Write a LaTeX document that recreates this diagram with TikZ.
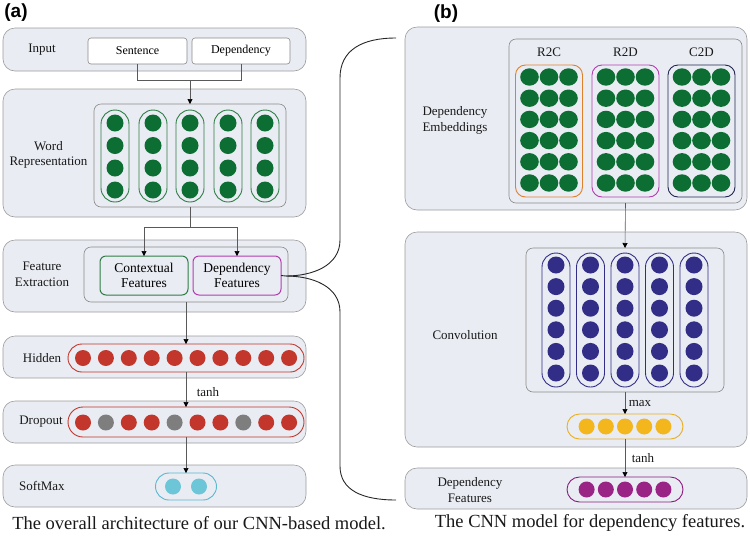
\documentclass[tikz,border=0pt]{standalone}
\usepackage{fontspec}
\setmainfont{Liberation Serif}
\newfontfamily\panelfont{Liberation Sans}
\usetikzlibrary{arrows.meta}
\definecolor{boxbg}{HTML}{E9ECF3}
\definecolor{boxline}{HTML}{9C9C9C}
\definecolor{innerline}{HTML}{8A8A8A}
\definecolor{wgreen}{HTML}{0C6E32}
\definecolor{pgreen}{HTML}{2E7D45}
\definecolor{hred}{HTML}{C3362B}
\definecolor{dgray}{HTML}{7E7E7E}
\definecolor{sblue}{HTML}{6CC6D8}
\definecolor{sblueline}{HTML}{5AB8CF}
\definecolor{corange}{HTML}{E0802A}
\definecolor{cmag}{HTML}{B13DAF}
\definecolor{cnavy}{HTML}{22264F}
\definecolor{dnavy}{HTML}{322E87}
\definecolor{cyellow}{HTML}{F3B61C}
\definecolor{cyellowline}{HTML}{EAB020}
\definecolor{cpurple}{HTML}{9A2486}
\definecolor{cpurpleline}{HTML}{8C1F7C}
\begin{document}
\begin{tikzpicture}[x=1pt,y=-1pt,
  every node/.style={inner sep=0pt,outer sep=0pt},
  outerbox/.style={draw=boxline,fill=boxbg,line width=0.6pt,rounded corners=12pt,anchor=north west},
  innerbox/.style={draw=innerline,fill=boxbg,line width=0.6pt,rounded corners=7pt,anchor=north west},
  inbox/.style={draw=innerline,fill=white,line width=0.6pt,rounded corners=3pt,anchor=north west,font=\fontsize{12}{14}\selectfont},
  featbox/.style={fill=boxbg,line width=1pt,rounded corners=6pt,anchor=north west,align=center,font=\fontsize{13.5}{15.5}\selectfont},
  pill/.style={line width=0.9pt,rounded corners=#1},
  lab/.style={align=center,font=\fontsize{13}{15.5}\selectfont,text=black!90},
  captext/.style={font=\fontsize{18.5}{20}\selectfont,text=black!90},
  panel/.style={font=\panelfont\bfseries\fontsize{19}{20}\selectfont},
  conn/.style={draw=black!65,line width=0.6pt},
  arr/.style={conn,-{Triangle[length=5pt,width=5pt,color=black]}},
  brace/.style={draw=black!85,line width=0.9pt}
]
\useasboundingbox (0,0) rectangle (750,542);

% ================= Panel (a) =================
\node[panel] (pa) at (16,13) {(a)};

% Input
\node[outerbox,minimum width=303pt,minimum height=43pt] (inbg) at (3,28) {};
\node[lab] (inlab) at (42,50) {Input};
\node[inbox,minimum width=99pt,minimum height=26pt] (sent) at (88,38) {Sentence};
\node[inbox,minimum width=98pt,minimum height=26pt] (dep) at (192,38) {Dependency};

% Word representation
\node[outerbox,minimum width=303pt,minimum height=128pt] (wrbg) at (3,89) {};
\node[innerbox,minimum width=192pt,minimum height=103pt] (wrin) at (94,104) {};
\node[lab] (wrlab) at (48.5,155) {Word\\Representation};
\foreach \x [count=\i] in {115,153,190,228,265}{
  \node[draw=pgreen,pill=14pt,minimum width=28pt,minimum height=92pt] (wp\i) at (\x,156) {};
  \foreach \y in {123,145.5,168,190}{
    \fill[wgreen] (\x,\y) circle (8.5);
  }
}
\coordinate (j1) at (190,80);
\draw[conn] (sent.south) -- ++(0,16) -| (dep.south);
\draw[arr] (j1) -- (wrin.north);

% Feature extraction
\node[outerbox,minimum width=303pt,minimum height=72pt] (febg) at (3,240) {};
\node[innerbox,minimum width=204pt,minimum height=55pt] (fein) at (84,247) {};
\node[lab] (felab) at (42,274.5) {Feature\\Extraction};
\node[featbox,draw=pgreen,minimum width=88pt,minimum height=39pt] (ctx) at (100,256) {Contextual\\Features};
\node[featbox,draw=cmag,minimum width=88pt,minimum height=39pt] (dfeat) at (193,256) {Dependency\\Features};
\coordinate (j2) at (190,227);
\draw[conn] (wrin.south) -- (j2);
\draw[arr] (j2) -| (ctx.north);
\draw[arr] (j2) -| (dfeat.north);

% Hidden
\node[outerbox,minimum width=303pt,minimum height=42pt] (hbg) at (3,336) {};
\node[lab] (hlab) at (42,358) {Hidden};
\node[draw=hred,pill=14pt,minimum width=236pt,minimum height=28pt] (hp) at (186,358) {};
\foreach \i in {0,...,9}{
  \fill[hred] (83+22.9*\i,358) circle (8);
}
\draw[arr] (fein.south) -- (hp.north);

% Dropout
\node[outerbox,minimum width=303pt,minimum height=42pt] (dbg) at (3,401) {};
\node[lab] (dlab) at (41,422) {Dropout};
\node[draw=hred,pill=15pt,minimum width=236pt,minimum height=30pt] (dp) at (186,422) {};
\foreach \i/\c in {0/hred,1/dgray,2/hred,3/hred,4/dgray,5/hred,6/hred,7/dgray,8/hred,9/hred}{
  \fill[\c] (83+22.9*\i,422.5) circle (8);
}
\draw[arr] (hp.south) -- (dp.north);
\node[lab] (tanh1) at (208,392) {tanh};

% SoftMax
\node[outerbox,minimum width=303pt,minimum height=42pt] (sbg) at (3,465) {};
\node[lab] (slab) at (42,486) {SoftMax};
\node[draw=sblueline,pill=13.5pt,minimum width=61pt,minimum height=27pt] (sp) at (186,486.5) {};
\fill[sblue] (173,486.5) circle (8);
\fill[sblue] (199,486.5) circle (8);
\draw[arr] (dp.south) -- (sp.north);

\node[captext] (capa) at (199,523) {The overall architecture of our CNN-based model.};

% ================= Panel (b) =================
\node[panel] (pb) at (446,14) {(b)};

% Dependency embeddings
\node[outerbox,minimum width=342pt,minimum height=183pt] (debg) at (405,27) {};
\node[innerbox,minimum width=233pt,minimum height=164pt] (dein) at (509,39) {};
\node[lab] (delab) at (455,120.5) {Dependency\\Embeddings};
\foreach \cx/\col/\nm/\tx in {549/corange/r2c/R2C,625.5/cmag/r2d/R2D,701.5/cnavy/c2d/C2D}{
  \node[lab] (\nm lab) at (\cx,52) {\tx};
  \node[draw=\col,pill=10pt,minimum width=67pt,minimum height=132pt] (\nm) at (\cx,131) {};
  \foreach \dx in {-19.5,0,19.5}{
    \foreach \j in {0,...,5}{
      \fill[wgreen] (\cx+\dx,77+21.2*\j) ellipse (9.3 and 8.7);
    }
  }
}

% Convolution
\node[outerbox,minimum width=342pt,minimum height=215pt] (cbg) at (405,232) {};
\node[innerbox,minimum width=198pt,minimum height=144pt] (cin) at (526,248) {};
\node[lab] (clab) at (465,335) {Convolution};
\foreach \x [count=\i] in {556,590.5,625,659.5,694}{
  \node[draw=dnavy,pill=14pt,minimum width=28pt,minimum height=134pt] (cp\i) at (\x,320) {};
  \foreach \j in {0,...,5}{
    \fill[dnavy] (\x,265+21.6*\j) circle (8.5);
  }
}
\draw[arr] (dein.south) -- (cin.north);

\node[draw=cyellowline,pill=12.5pt,minimum width=116pt,minimum height=25pt] (yp) at (625,426.5) {};
\foreach \i in {-2,...,2}{
  \fill[cyellow] (625+19.2*\i,426.5) circle (8);
}
\draw[arr] (cin.south) -- (yp.north);
\node[lab] (maxlab) at (640,403) {max};

% Dependency features
\node[outerbox,minimum width=342pt,minimum height=41pt] (dfbg) at (405,468) {};
\node[lab] (dflab) at (470,490) {Dependency\\Features};
\node[draw=cpurpleline,pill=12.5pt,minimum width=116pt,minimum height=25pt] (pp) at (625,489.5) {};
\foreach \i in {-2,...,2}{
  \fill[cpurple] (625+19.2*\i,489.5) circle (8);
}
\draw[arr] (yp.south) -- (pp.north);
\node[lab] (tanh2) at (643,458) {tanh};

\node[captext] (capb) at (590,523) {The CNN model for dependency features.};

% ================= Brace =================
\coordinate (bj) at (286,276);
\coordinate (bt) at (396,38);
\coordinate (bb) at (396,500);
\draw[brace] (dfeat.east) -- (bj);
\draw[brace] (bt) .. controls (362,38) and (340,50) .. (340,78) -- (340,240)
  .. controls (340,266) and (312,276) .. (bj);
\draw[brace] (bj) .. controls (312,276) and (340,286) .. (340,312) -- (340,466)
  .. controls (340,490) and (362,500) .. (bb);
\end{tikzpicture}
\end{document}
